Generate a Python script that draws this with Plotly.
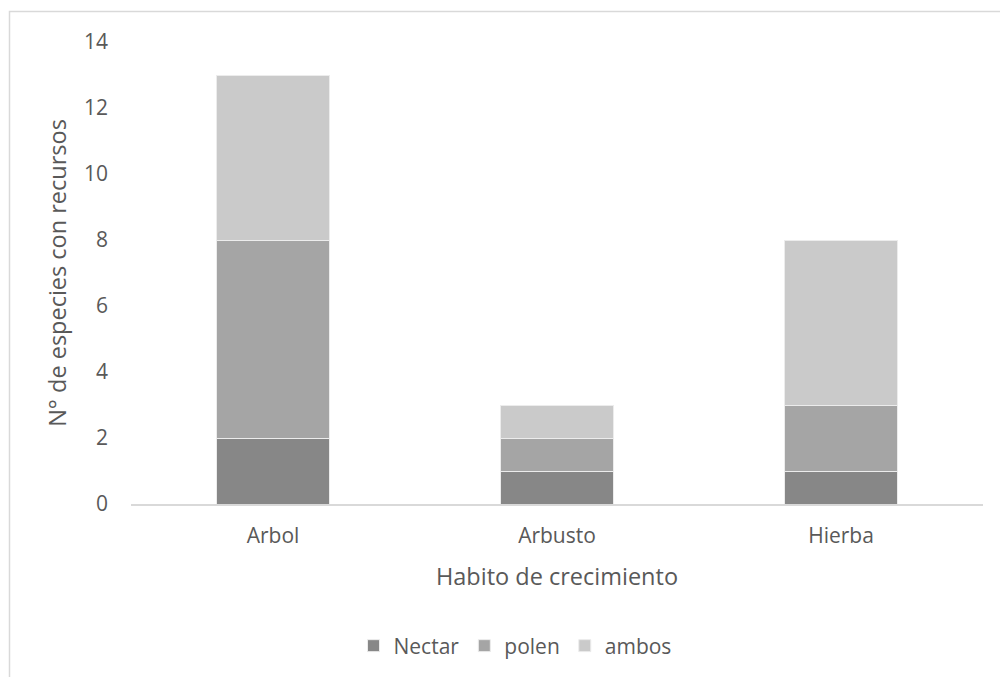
import plotly.graph_objects as go

# Growth habit categories and number of species by floral resource
habitos = ["Arbol", "Arbusto", "Hierba"]
nectar = [2, 1, 1]
polen = [6, 1, 2]
ambos = [5, 1, 5]

series = [
    ("Nectar", nectar, "#878787"),
    ("polen", polen, "#a5a5a5"),
    ("ambos", ambos, "#cacaca"),
]

FONT = "Open Sans, Noto Sans, sans-serif"
TXT = "#595959"

fig = go.Figure()
for nombre, valores, color in series:
    fig.add_trace(go.Bar(
        x=habitos, y=valores, name=nombre,
        marker=dict(color=color, line=dict(color="#ececec", width=1)),
    ))

# plot-area geometry in pixels
L, R, T, B = 131, 17, 42, 172
W, H = 1000 - L - R, 677 - T - B

fig.update_layout(
    width=1000, height=677,
    margin=dict(l=L, r=R, t=T, b=B),
    barmode="stack", bargap=0.6,
    paper_bgcolor="white", plot_bgcolor="white",
    font=dict(family=FONT, color=TXT, size=21),
    showlegend=True,
    legend=dict(
        orientation="h", x=(515 - L) / W, xanchor="center",
        y=(H + T - 646) / H, yanchor="middle",
        font=dict(size=21, color=TXT), traceorder="normal",
        itemwidth=30,
    ),
    xaxis=dict(
        showline=True, linecolor="#d9d9d9", linewidth=1.5,
        ticks="", showgrid=False, zeroline=False,
        tickfont=dict(size=21, color=TXT), ticklabelstandoff=12,
        title=dict(text="Habito de crecimiento", font=dict(size=23.5, color=TXT), standoff=21),
    ),
    yaxis=dict(
        range=[0, 14], dtick=2, tick0=0,
        showline=False, showgrid=False, zeroline=False,
        tickfont=dict(size=21, color=TXT), ticklabelstandoff=22,
        title=dict(text="N° de especies con recursos", font=dict(size=23.5, color=TXT), standoff=10),
    ),
    shapes=[dict(
        type="rect", xref="paper", yref="paper",
        x0=(9.5 - L) / W, x1=1.3,
        y0=-0.6, y1=(H + T - 11.5) / H,
        line=dict(color="#d9d9d9", width=1.5), fillcolor="rgba(0,0,0,0)",
        layer="below",
    )],
)

fig.write_html("out.html")
